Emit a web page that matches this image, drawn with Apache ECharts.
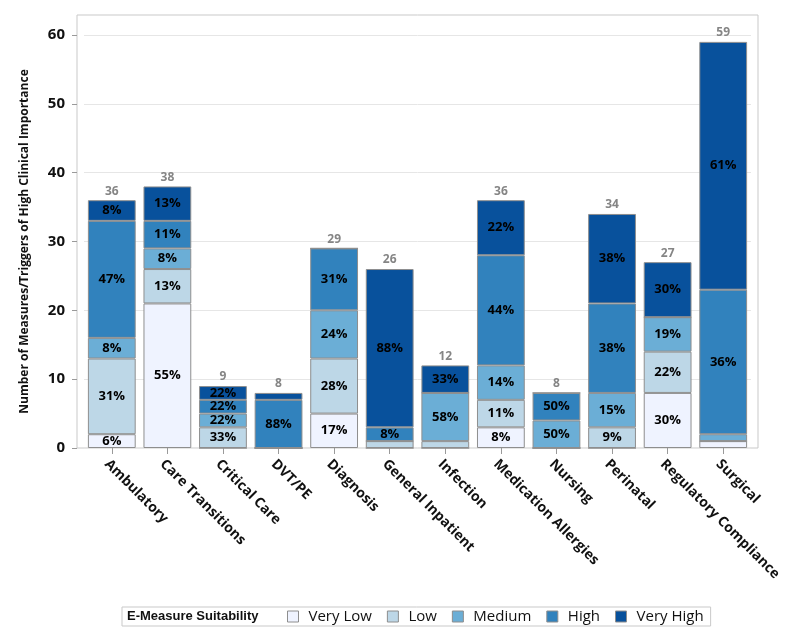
<!DOCTYPE html>
<html><head><meta charset="utf-8">
<script src="https://cdn.jsdelivr.net/npm/echarts@6/dist/echarts.min.js"></script>
<style>html,body{margin:0;padding:0;background:#fff}#c{width:800px;height:640px}</style>
</head><body><div id="c"></div>
<script>
const categories = ['Ambulatory','Care Transitions','Critical Care','DVT/PE','Diagnosis','General Inpatient','Infection','Medication Allergies','Nursing','Perinatal','Regulatory Compliance','Surgical'];
const levelNames = ['Very Low','Low','Medium','High','Very High'];
const veryLow  = [2,21,0,0,5,0,0,3,0,0,8,1];
const low      = [11,5,3,0,8,1,1,4,0,3,6,0];
const medium   = [3,3,2,0,7,0,7,5,4,5,5,1];
const high     = [17,4,2,7,9,2,0,16,4,13,0,21];
const veryHigh = [3,5,2,1,0,23,4,8,0,13,8,36];
const yTicks = [0,10,20,30,40,50,60];
const legendTitle = 'E-Measure Suitability';
const yTitle = 'Number of Measures/Triggers of High Clinical Importance';

const levels = [veryLow, low, medium, high, veryHigh];
const colors = ['#eff3ff','#bdd7e7','#6baed6','#3182bd','#08519c'];
const totals = categories.map((c,i)=>levels.reduce((s,a)=>s+a[i],0));
const FF = '"Open Sans", "Noto Sans", sans-serif';

const series = [{
  name: legendTitle, type:'bar', stack:'total', data: categories.map(()=>0),
  itemStyle:{color:'transparent'}
}];
levels.forEach((arr,k)=>{
  series.push({
    name: levelNames[k], type:'bar', stack:'total', barWidth:'86%',
    data: arr,
    itemStyle:{color:colors[k], borderColor:'#8e8e8e', borderWidth:1},
    label:{show:true, position:'inside', color:'#000', fontFamily:FF, fontWeight:'bold', fontSize:13,
      formatter:p=> p.value>=2 ? Math.round(p.value/totals[p.dataIndex]*100)+'%' : ''}
  });
});
series.push({
  name:'Total', type:'bar', stack:'total', data: categories.map(()=>0),
  itemStyle:{color:'transparent'},
  label:{show:true, position:'top', distance:3, color:'#858585', fontFamily:FF, fontWeight:'bold', fontSize:12,
    formatter:p=>String(totals[p.dataIndex])}
});

const chart = echarts.init(document.getElementById('c'), null, {renderer:'canvas'});
chart.setOption({
  animation:false,
  backgroundColor:'#fff',
  grid:[
    {left:84, right:49, top:35, bottom:192},
    {left:77, right:42, top:15, bottom:192, show:true, borderColor:'#c9c9c9', borderWidth:1, backgroundColor:'transparent', z:0}
  ],
  xAxis:[
    {type:'category', gridIndex:0, data:categories,
     axisLine:{show:false}, axisTick:{show:true, alignWithLabel:true, length:6, lineStyle:{color:'#9a9a9a'}},
     axisLabel:{rotate:-45, fontSize:14, fontWeight:'bold', color:'#111', fontFamily:FF, margin:9, interval:0,
       verticalAlign:'top'}},
    {type:'value', gridIndex:1, show:false}
  ],
  yAxis:[
    {type:'value', gridIndex:0, min:0, max:60, interval:10, offset:7,
     name:yTitle, nameLocation:'middle', nameGap:46,
     nameTextStyle:{fontSize:12, fontWeight:'bold', color:'#111', fontFamily:FF},
     axisLine:{show:false}, axisTick:{show:true, length:5, lineStyle:{color:'#9a9a9a'}},
     axisLabel:{fontSize:15, fontWeight:'bold', color:'#111', fontFamily:FF, margin:12,
       formatter:v=> yTicks.includes(v) ? String(v) : ''},
     splitLine:{show:true, lineStyle:{color:'#e6e6e6'}}},
    {type:'value', gridIndex:1, show:false}
  ],
  legend:[
    {
      left:111, top:607, itemWidth:11, itemHeight:11, padding:[2,0,2,0],
      textStyle:{fontSize:13, fontWeight:'bold', color:'#111', fontFamily:'"Liberation Sans", Arial, sans-serif', lineHeight:15},
      data:[{name:legendTitle, icon:'none'}],
      selectedMode:false
    },
    {
      left:122, top:607, itemWidth:11, itemHeight:11, itemGap:15,
      borderColor:'#c9c9c9', borderWidth:1, padding:[2,7,2,165],
      textStyle:{fontSize:15, color:'#111', fontFamily:FF, padding:[0,0,0,5], lineHeight:15},
      data: levelNames.map(n=>({name:n, icon:'rect', itemStyle:{borderColor:'#8e8e8e', borderWidth:1}})),
      selectedMode:false
    }
  ],
  series: series
});
</script></body></html>
